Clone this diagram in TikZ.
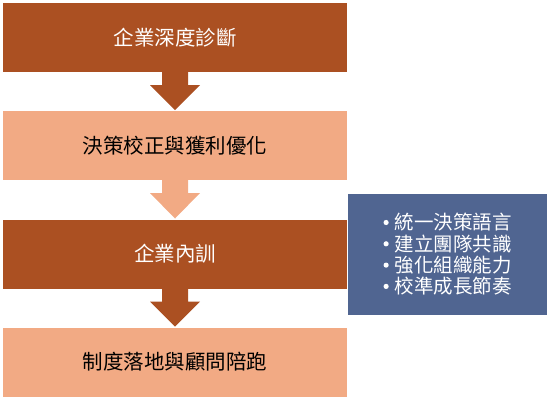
\documentclass[tikz,border=0pt]{standalone}
\usepackage{fontspec}
\newfontfamily\cjk{Noto Sans CJK TC}
\definecolor{darkbrown}{RGB}{171,80,34}
\definecolor{lightsalmon}{RGB}{242,170,132}
\definecolor{slateblue}{RGB}{80,101,145}
\newcommand{\blt}{\makebox[11pt][l]{\raisebox{0.25em}{\tikz\fill[white] (0,0) circle (2.6pt);}}}
\begin{document}
\begin{tikzpicture}[x=1pt,y=-1pt,
  stepbox/.style={minimum width=344pt,minimum height=69pt,inner sep=0pt,outer sep=0pt,font=\cjk\fontsize{20.5}{24}\selectfont},
  darkbox/.style={stepbox,fill=darkbrown,text=white},
  lightbox/.style={stepbox,fill=lightsalmon,text=black},
  sidebox/.style={fill=slateblue,text=white,minimum width=199pt,minimum height=121pt,inner sep=0pt,outer sep=0pt,font=\cjk\fontsize{19.5}{21.3}\selectfont,align=left}]
\useasboundingbox (0,0) rectangle (548,400);
\node[darkbox]  (b1) at (175,37.5)  {企業深度診斷};
\node[lightbox] (b2) at (175,145.5) {決策校正與獲利優化};
\node[darkbox]  (b3) at (175,254)   {企業內訓};
\node[lightbox] (b4) at (175,362)   {制度落地與顧問陪跑};
\node[sidebox]  (s)  at (447.5,254.5) {\blt 統一決策語言\\\blt 建立團隊共識\\\blt 強化組織能力\\\blt 校準成長節奏};
% arrows
\foreach \a/\b/\c in {b1/b2/darkbrown,b2/b3/lightsalmon,b3/b4/darkbrown}{
  \fill[\c] ([xshift=-13pt]\a.south) -- ([xshift=13pt]\a.south)
    -- ([xshift=13pt,yshift=-13pt]\a.south) -- ([xshift=25pt,yshift=-13pt]\a.south)
    -- ([yshift=1pt]\b.north) -- ([xshift=-25pt,yshift=-13pt]\a.south)
    -- ([xshift=-13pt,yshift=-13pt]\a.south) -- cycle;
}
\end{tikzpicture}
\end{document}
